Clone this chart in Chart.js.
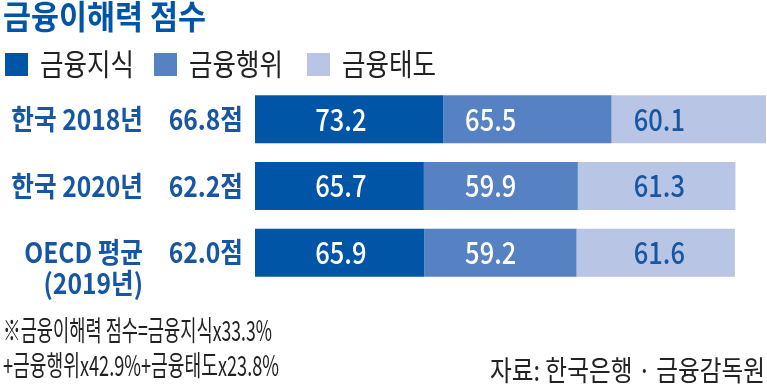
<!DOCTYPE html>
<html><head><meta charset="utf-8">
<script src="https://cdn.jsdelivr.net/npm/chart.js@4.4.1/dist/chart.umd.min.js"></script>
<style>
html,body{margin:0;padding:0;background:#fff;width:767px;height:386px;overflow:hidden;font-family:"Noto Sans CJK KR","Noto Sans",sans-serif}
#wrap{position:relative;width:767px;height:386px}
#c{position:absolute;left:0;top:0}
.t{position:absolute;white-space:nowrap;transform-origin:0 0;line-height:1}
.sq{position:absolute}
</style></head>
<body><div id="wrap"><canvas id="c" width="767" height="386"></canvas></div>
<script>
// ---- data ----
const categories = [['한국 2018년'], ['한국 2020년'], ['OECD 평균', '(2019년)']];
const totalScores = [66.8, 62.2, 62.0];
const seriesNames = ['금융지식', '금융행위', '금융태도'];
const knowledge = [73.2, 65.7, 65.9];
const behavior = [65.5, 59.9, 59.2];
const attitude = [60.1, 61.3, 61.6];
const titleText = '금융이해력 점수';
const noteLines = ['※금융이해력 점수=금융지식x33.3%', '+금융행위x42.9%+금융태도x23.8%'];
const sourceText = '자료: 한국은행 · 금융감독원';

// ---- styles ----
const colors = ['#0055A6', '#5681C2', '#B8C5E5'];
const valueTextColors = ['#ffffff', '#ffffff', '#1656A3'];
const labelColor = '#1656A3';
const labelColumns = [33.4, 91.7, 157.3];

const series = [knowledge, behavior, attitude];
const xMax = Math.max(...categories.map((c, i) => series.reduce((s, d) => s + d[i], 0)));

const wrap = document.getElementById('wrap');
function addText(txt, x, y, size, weight, color, width) {
  const el = document.createElement('div');
  el.className = 't';
  el.textContent = txt;
  el.style.left = x + 'px';
  el.style.top = y + 'px';
  el.style.fontSize = size + 'px';
  el.style.fontWeight = weight;
  el.style.color = color;
  wrap.appendChild(el);
  if (width) {
    const w = el.getBoundingClientRect().width;
    el.style.transform = 'scaleX(' + (width / w) + ')';
  }
  return el;
}
addText(titleText, 3, -1, 33, 700, '#0055A6', 203);
// legend
const legendX = [5, 154, 307];
seriesNames.forEach((n, i) => {
  const sq = document.createElement('div');
  sq.className = 'sq';
  sq.style.cssText = 'left:' + legendX[i] + 'px;top:53px;width:23px;height:23px;background:' + colors[i];
  wrap.appendChild(sq);
  addText(n, legendX[i] + 35, 47, 30, 400, '#222', 94);
});
addText(noteLines[0], 3, 315, 28, 400, '#222', 269);
addText(noteLines[1], 3, 350, 28, 400, '#222', 276);
addText(sourceText, 490, 355, 28, 400, '#222', 275);

const labelPlugin = {
  id: 'labels',
  afterDatasetsDraw(chart) {
    const ctx = chart.ctx;
    const xs = chart.scales.x, ys = chart.scales.y;
    const left = chart.chartArea.left;
    function txt(s, x, y, align, font, color, sx) {
      ctx.save();
      ctx.font = font;
      ctx.fillStyle = color;
      ctx.textBaseline = 'middle';
      ctx.textAlign = align;
      ctx.translate(x, y);
      ctx.scale(sx, 1);
      ctx.fillText(s, 0, 0);
      ctx.restore();
    }
    categories.forEach((lines, i) => {
      const y = ys.getPixelForValue(i);
      lines.forEach((ln, k) => {
        txt(ln, left - 112, y + k * 31, 'right', '700 28px "Noto Sans CJK KR"', labelColor, 0.88);
      });
      txt(totalScores[i].toFixed(1) + '점', left - 12, y, 'right', '700 28px "Noto Sans CJK KR"', labelColor, 0.88);
      series.forEach((d, j) => {
        txt(d[i].toFixed(1), xs.getPixelForValue(labelColumns[j]), y, 'center', '500 30px "Noto Sans CJK KR"', valueTextColors[j], 0.85);
      });
    });
  }
};

new Chart(document.getElementById('c'), {
  type: 'bar',
  data: {
    labels: categories.map(c => c.join(' ')),
    datasets: seriesNames.map((n, i) => ({
      label: n, data: series[i], backgroundColor: colors[i], borderWidth: 0,
      categoryPercentage: 1, barPercentage: 0.72
    }))
  },
  options: {
    indexAxis: 'y', responsive: false, animation: false,
    layout: { padding: { left: 255, right: 1, top: 86, bottom: 100 } },
    scales: {
      x: { stacked: true, display: false, min: 0, max: xMax },
      y: { stacked: true, display: false }
    },
    plugins: { legend: { display: false }, tooltip: { enabled: false } }
  },
  plugins: [labelPlugin]
});
</script>
</body></html>
